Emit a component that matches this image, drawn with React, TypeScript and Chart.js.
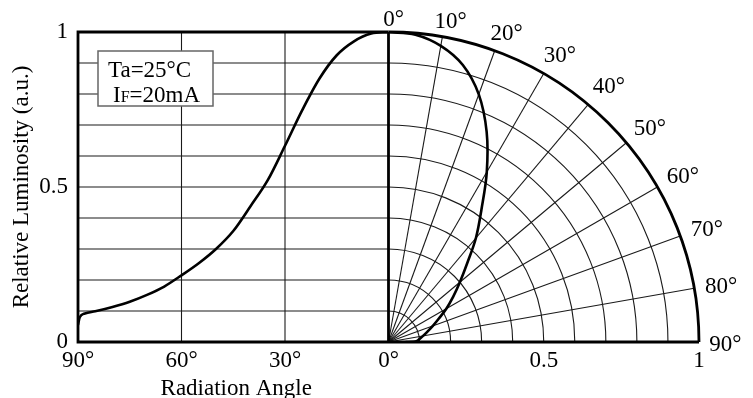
import { useEffect, useRef } from "react";
import { Chart, registerables } from "chart.js";

Chart.register(...registerables);

// ---- data ----
const ANGLES_DEG = [0, 5, 10, 15, 20, 25, 30, 35, 40, 45, 50, 55, 60, 65, 70, 75, 80, 85, 88, 89.5, 90];
const LUMINOSITY = [1.0, 0.995, 0.97, 0.925, 0.85, 0.748, 0.633, 0.522, 0.438, 0.358, 0.3, 0.254, 0.215, 0.179, 0.152, 0.13, 0.113, 0.099, 0.092, 0.08, 0.055];

const X_TICK_VALUES = [-1, -2 / 3, -1 / 3, 0, 0.5, 1];
const X_TICK_LABELS = ["90°", "60°", "30°", "0°", "0.5", "1"];
const Y_TICK_VALUES = [0, 0.5, 1];
const Y_TICK_LABELS = ["0", "0.5", "1"];
const GRID_LEVELS = [0.1, 0.2, 0.3, 0.4, 0.5, 0.6, 0.7, 0.8, 0.9];
const LEFT_GRID_ANGLES = [60, 30];
const POLAR_RADIAL_ANGLES = [10, 20, 30, 40, 50, 60, 70, 80];
const POLAR_LABEL_ANGLES = [0, 10, 20, 30, 40, 50, 60, 70, 80, 90];
const POLAR_LABELS = ["0°", "10°", "20°", "30°", "40°", "50°", "60°", "70°", "80°", "90°"];
const X_TITLE = "Radiation Angle";
const Y_TITLE = "Relative Luminosity (a.u.)";
const NOTE_LINE1 = "Ta=25°C";
const NOTE_LINE2 = ["I", "F", "=20mA"];

const FONT = "'Liberation Serif', 'Times New Roman', Times, serif";

const toRad = (d: number) => (d * Math.PI) / 180;

const polarPlugin = {
  id: "polarDecor",
  beforeDatasetsDraw(chart: any) {
    const { ctx, scales } = chart;
    const x = scales.x;
    const y = scales.y;
    const cx = x.getPixelForValue(0);
    const cy = y.getPixelForValue(0);
    const R = x.getPixelForValue(1) - cx;
    const Ry = cy - y.getPixelForValue(1);
    const xL = x.getPixelForValue(-1);
    const yT = y.getPixelForValue(1);
    const line = (a: number, b: number, c: number, d: number) => {
      ctx.beginPath();
      ctx.moveTo(a, b);
      ctx.lineTo(c, d);
      ctx.stroke();
    };
    ctx.save();
    ctx.strokeStyle = "#1a1a1a";
    ctx.lineWidth = 1.1;
    GRID_LEVELS.forEach((v) => {
      const py = y.getPixelForValue(v);
      line(xL, py, cx, py);
    });
    LEFT_GRID_ANGLES.forEach((a) => {
      const px = x.getPixelForValue(-a / 90);
      line(px, cy, px, yT);
    });
    GRID_LEVELS.forEach((v) => {
      ctx.beginPath();
      ctx.ellipse(cx, cy, v * R, v * Ry, 0, -Math.PI / 2, 0);
      ctx.stroke();
    });
    POLAR_RADIAL_ANGLES.forEach((a) => {
      const t = toRad(a);
      line(cx, cy, cx + R * Math.sin(t), cy - Ry * Math.cos(t));
    });
    // borders
    ctx.strokeStyle = "#000";
    ctx.lineWidth = 2.8;
    ctx.beginPath();
    ctx.moveTo(cx, yT);
    ctx.lineTo(xL, yT);
    ctx.lineTo(xL, cy);
    ctx.lineTo(x.getPixelForValue(1), cy);
    ctx.stroke();
    line(cx, cy, cx, yT);
    ctx.beginPath();
    ctx.ellipse(cx, cy, R, Ry, 0, -Math.PI / 2, 0);
    ctx.stroke();
    ctx.restore();
  },
  afterDatasetsDraw(chart: any) {
    const { ctx, scales } = chart;
    const x = scales.x;
    const y = scales.y;
    const cx = x.getPixelForValue(0);
    const cy = y.getPixelForValue(0);
    const R = x.getPixelForValue(1) - cx;
    const Ry = cy - y.getPixelForValue(1);
    ctx.save();
    ctx.fillStyle = "#000";
    ctx.font = `23px ${FONT}`;
    ctx.textAlign = "center";
    ctx.textBaseline = "middle";
    POLAR_LABEL_ANGLES.forEach((a, i) => {
      const t = toRad(a);
      const rr = 1.05 + 0.035 * Math.min(1, a / 40);
      const px = cx + rr * R * Math.sin(t) + 5 * Math.cos(t);
      const py = cy - rr * Ry * Math.cos(t) + 3;
      ctx.fillText(POLAR_LABELS[i], px, py);
    });
    // x title centred on the left half
    ctx.textBaseline = "alphabetic";
    const midLeft = (x.getPixelForValue(-1) + cx) / 2 + 3;
    ctx.fillText(X_TITLE, midLeft, 395);

    // condition note box
    const bx = 98;
    const by = 51;
    const bw = 115;
    const bh = 55;
    ctx.fillStyle = "#fff";
    ctx.fillRect(bx, by, bw, bh);
    ctx.strokeStyle = "#666";
    ctx.lineWidth = 1.5;
    ctx.strokeRect(bx, by, bw, bh);
    ctx.fillStyle = "#000";
    ctx.textAlign = "left";
    ctx.font = `23px ${FONT}`;
    ctx.fillText(NOTE_LINE1, bx + 10, by + 26);
    let tx = bx + 15;
    const base2 = by + 51;
    ctx.fillText(NOTE_LINE2[0], tx, base2);
    tx += ctx.measureText(NOTE_LINE2[0]).width;
    ctx.font = `16px ${FONT}`;
    ctx.fillText(NOTE_LINE2[1], tx, base2);
    tx += ctx.measureText(NOTE_LINE2[1]).width;
    ctx.font = `23px ${FONT}`;
    ctx.fillText(NOTE_LINE2[2], tx, base2);
    ctx.restore();
  },
};

export default function App() {
  const ref = useRef<HTMLCanvasElement | null>(null);

  useEffect(() => {
    document.body.style.margin = "0";
    const canvas = ref.current;
    if (!canvas) return;

    const leftCurve = ANGLES_DEG.map((a, i) => ({ x: -a / 90, y: LUMINOSITY[i] })).reverse();
    const polarCurve = ANGLES_DEG.map((a, i) => ({
      x: LUMINOSITY[i] * Math.sin(toRad(a)),
      y: LUMINOSITY[i] * Math.cos(toRad(a)),
    }));

    const chart = new Chart(canvas, {
      type: "scatter",
      data: {
        datasets: [
          {
            data: leftCurve,
            showLine: true,
            borderColor: "#000",
            borderWidth: 2.6,
            pointRadius: 0,
            cubicInterpolationMode: "monotone",
          },
          {
            data: polarCurve,
            showLine: true,
            borderColor: "#000",
            borderWidth: 2.6,
            pointRadius: 0,
            tension: 0.35,
          },
        ],
      },
      options: {
        animation: false,
        responsive: false,
        devicePixelRatio: 1,
        layout: { padding: { top: 32, right: 54, left: 0, bottom: 0 } },
        plugins: { legend: { display: false }, tooltip: { enabled: false } },
        scales: {
          x: {
            type: "linear",
            min: -1,
            max: 1,
            grid: { display: false, drawTicks: false },
            border: { display: false },
            afterBuildTicks: (axis: any) => {
              axis.ticks = X_TICK_VALUES.map((v) => ({ value: v }));
            },
            afterFit: (axis: any) => {
              axis.height = 56;
            },
            ticks: {
              autoSkip: false,
              maxRotation: 0,
              padding: 5,
              color: "#000",
              font: { family: FONT, size: 23 },
              callback: (_v: any, i: number) => X_TICK_LABELS[i],
            },
          },
          y: {
            type: "linear",
            min: 0,
            max: 1,
            grid: { display: false, drawTicks: false },
            border: { display: false },
            afterBuildTicks: (axis: any) => {
              axis.ticks = Y_TICK_VALUES.map((v) => ({ value: v }));
            },
            afterFit: (axis: any) => {
              axis.width = 78;
            },
            title: {
              display: true,
              text: Y_TITLE,
              color: "#000",
              font: { family: FONT, size: 23 },
              padding: { top: 8, bottom: 0 },
            },
            ticks: {
              padding: 10,
              color: "#000",
              font: { family: FONT, size: 23 },
              callback: (_v: any, i: number) => Y_TICK_LABELS[i],
            },
          },
        },
      },
      plugins: [polarPlugin],
    } as any);

    return () => chart.destroy();
  }, []);

  return (
    <div style={{ width: 753, height: 398 }}>
      <canvas ref={ref} width={753} height={398} style={{ display: "block" }} />
    </div>
  );
}
